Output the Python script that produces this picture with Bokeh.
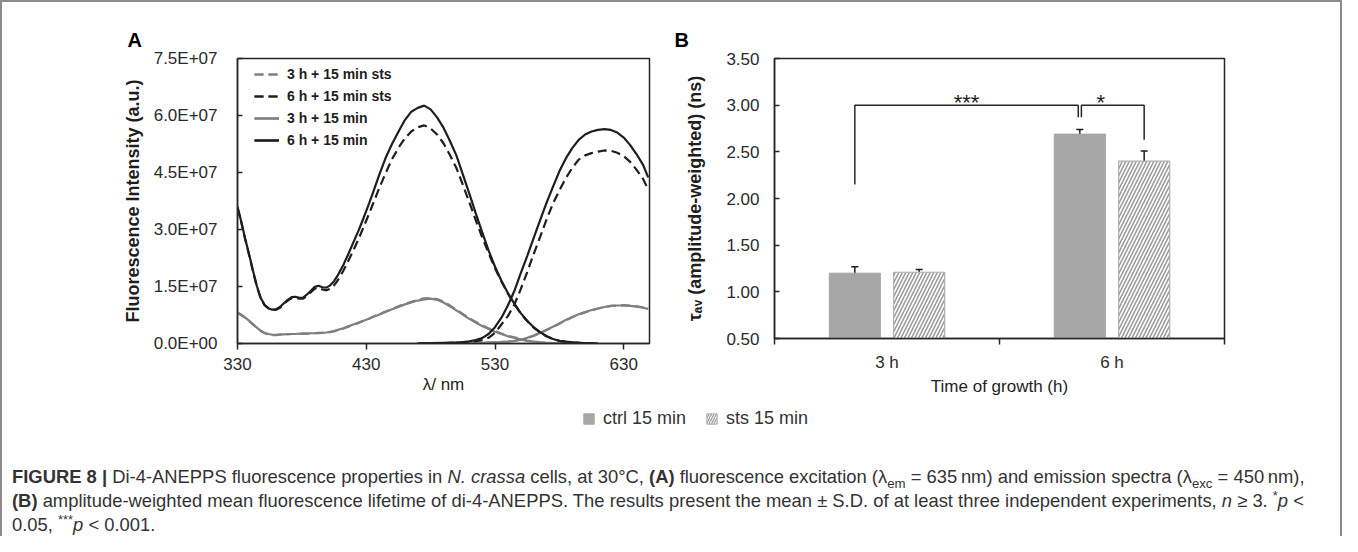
from bokeh.plotting import figure
from bokeh.models import (Range1d, FixedTicker, Legend, LegendItem, Whisker, TeeHead,
                          ColumnDataSource, Div, NumeralTickFormatter)
from bokeh.layouts import column, row
from bokeh.embed import file_html
from bokeh.resources import INLINE
from bokeh.core.properties import value

FONT = "Liberation Sans"
INK = "#1e1e1e"
AXIS = "#262626"
GREY_LINE = "#7f7f7f"
BAR_GREY = "#a6a6a6"
HATCH_GREY = "#9c9c9c"

# ---------------- Panel A data (intensity in units of 1E+07 a.u.) ----------------
x_ticks_A = [330, 430, 530, 630]
y_ticks_A = [0, 1.5, 3, 4.5, 6, 7.5]
y_labels_A = ["0.0E+00", "1.5E+07", "3.0E+07", "4.5E+07", "6.0E+07", "7.5E+07"]

series_labels = ["3 h + 15 min sts", "6 h + 15 min sts", "3 h + 15 min", "6 h + 15 min"]

ex_wl = [330, 333, 336, 339, 342, 345, 348, 351, 354, 357, 360, 363, 366, 369, 372, 375,
         378, 381, 384, 387, 390, 393, 396, 399, 402, 405, 408, 412, 416, 420, 424, 428,
         432, 436, 440, 445, 450, 455, 460, 465, 470, 475, 480, 485, 490, 495, 500, 505,
         510, 515, 520, 525, 530, 535, 540, 545, 550, 555, 560, 565, 570, 575, 580, 590,
         600, 610]

ex_6h = [3.60, 3.20, 2.75, 2.35, 1.92, 1.52, 1.20, 1.02, 0.93, 0.89, 0.90, 0.96, 1.06, 1.15,
         1.22, 1.23, 1.20, 1.21, 1.29, 1.39, 1.49, 1.52, 1.48, 1.47, 1.53, 1.64, 1.80, 2.05,
         2.35, 2.66, 2.97, 3.31, 3.67, 4.04, 4.43, 4.88, 5.25, 5.57, 5.88, 6.10, 6.20, 6.26,
         6.16, 5.95, 5.68, 5.33, 4.95, 4.45, 3.95, 3.43, 2.93, 2.45, 2.02, 1.65, 1.33, 1.05,
         0.80, 0.60, 0.43, 0.30, 0.19, 0.12, 0.07, 0.03, 0.01, 0.00]

ex_6h_sts = [3.58, 3.18, 2.74, 2.33, 1.90, 1.50, 1.19, 1.01, 0.92, 0.88, 0.89, 0.94, 1.04,
             1.13, 1.19, 1.20, 1.18, 1.18, 1.25, 1.35, 1.44, 1.47, 1.42, 1.40, 1.44, 1.53,
             1.67, 1.90, 2.17, 2.45, 2.75, 3.07, 3.40, 3.74, 4.08, 4.48, 4.85, 5.15, 5.40,
             5.58, 5.69, 5.74, 5.66, 5.50, 5.27, 4.96, 4.62, 4.18, 3.72, 3.25, 2.80, 2.38,
             1.98, 1.63, 1.31, 1.04, 0.79, 0.59, 0.42, 0.29, 0.19, 0.12, 0.07, 0.03, 0.01,
             0.00]

ex_3h = [0.82, 0.76, 0.68, 0.60, 0.51, 0.42, 0.34, 0.28, 0.25, 0.23, 0.23, 0.24, 0.24, 0.25,
         0.25, 0.25, 0.26, 0.26, 0.26, 0.27, 0.27, 0.28, 0.28, 0.29, 0.31, 0.33, 0.36, 0.40,
         0.45, 0.50, 0.55, 0.60, 0.65, 0.71, 0.76, 0.83, 0.90, 0.96, 1.03, 1.08, 1.13, 1.16,
         1.18, 1.15, 1.08, 0.98, 0.87, 0.76, 0.65, 0.55, 0.46, 0.38, 0.31, 0.25, 0.19, 0.15,
         0.11, 0.07, 0.05, 0.03, 0.02, 0.01, 0.01, 0.00, 0.00, 0.00]

ex_3h_sts = [0.80, 0.74, 0.67, 0.59, 0.50, 0.41, 0.33, 0.27, 0.24, 0.22, 0.22, 0.23, 0.24,
             0.24, 0.25, 0.25, 0.25, 0.26, 0.26, 0.26, 0.27, 0.27, 0.28, 0.29, 0.30, 0.32,
             0.35, 0.39, 0.44, 0.49, 0.54, 0.60, 0.65, 0.71, 0.77, 0.84, 0.91, 0.98, 1.04,
             1.10, 1.15, 1.19, 1.20, 1.17, 1.10, 1.00, 0.89, 0.78, 0.67, 0.57, 0.48, 0.40,
             0.33, 0.26, 0.20, 0.16, 0.12, 0.08, 0.05, 0.03, 0.02, 0.01, 0.01, 0.00, 0.00,
             0.00]

em_wl = [470, 480, 490, 500, 505, 510, 515, 520, 525, 530, 535, 540, 545, 550, 555, 560, 565,
         570, 575, 580, 585, 590, 595, 600, 605, 610, 615, 620, 625, 630, 635, 640, 645, 649]

em_6h = [0.00, 0.01, 0.02, 0.03, 0.04, 0.06, 0.09, 0.14, 0.25, 0.43, 0.68, 1.00, 1.38, 1.85,
         2.30, 2.77, 3.24, 3.70, 4.12, 4.53, 4.87, 5.14, 5.36, 5.50, 5.58, 5.62, 5.64, 5.62,
         5.55, 5.42, 5.22, 4.98, 4.70, 4.37]

em_6h_sts = [0.00, 0.00, 0.01, 0.02, 0.03, 0.04, 0.06, 0.09, 0.15, 0.28, 0.50, 0.72, 1.02,
             1.43, 1.88, 2.35, 2.80, 3.26, 3.68, 4.03, 4.35, 4.62, 4.84, 4.95, 5.01, 5.05,
             5.08, 5.07, 5.02, 4.93, 4.78, 4.57, 4.33, 4.06]

em_3h = [0.00, 0.00, 0.00, 0.01, 0.01, 0.01, 0.02, 0.02, 0.03, 0.03, 0.04, 0.05, 0.07, 0.10,
         0.15, 0.21, 0.28, 0.36, 0.44, 0.53, 0.62, 0.70, 0.77, 0.83, 0.88, 0.92, 0.96, 0.99,
         1.00, 1.00, 0.99, 0.97, 0.94, 0.91]

em_3h_sts = [0.00, 0.00, 0.00, 0.00, 0.01, 0.01, 0.01, 0.02, 0.02, 0.03, 0.04, 0.05, 0.07,
             0.10, 0.14, 0.20, 0.27, 0.35, 0.43, 0.52, 0.61, 0.69, 0.76, 0.82, 0.87, 0.92,
             0.96, 0.99, 1.00, 1.01, 1.00, 0.98, 0.95, 0.92]

# ---------------- Panel B data ----------------
groups = ["3 h", "6 h"]
ctrl_mean = [1.20, 2.69]
ctrl_sd = [0.07, 0.05]
sts_mean = [1.21, 2.40]
sts_sd = [0.03, 0.11]
y_ticks_B = [0.5, 1.0, 1.5, 2.0, 2.5, 3.0, 3.5]
bar_labels = ["ctrl 15 min", "sts 15 min"]
# significance brackets: (left-end bottom, top, right-end bottom)
sig_texts = ["***", "*"]
sig_levels = [(2.15, 3.00, 2.87), (2.87, 3.00, 2.63)]

# ======================= Panel A =======================
pA = figure(frame_width=412, frame_height=285, x_range=Range1d(330, 650),
            y_range=Range1d(0, 7.5), toolbar_location=None, output_backend="svg",
            min_border_left=235, min_border_right=18, min_border_top=51,
            min_border_bottom=59, title="A")
pA.outline_line_color = AXIS
pA.outline_line_width = 1.5
pA.grid.visible = False

styles = [
    (ex_3h_sts, em_3h_sts, GREY_LINE, "9 5"),
    (ex_6h_sts, em_6h_sts, INK, "9 5"),
    (ex_3h, em_3h, GREY_LINE, "solid"),
    (ex_6h, em_6h, INK, "solid"),
]
items = []
draw_order = [0, 2, 1, 3]
rends = {}
for i in draw_order:
    ex, em, col, dash = styles[i]
    r1 = pA.line(ex_wl, ex, line_color=col, line_width=2.2, line_dash=dash)
    r2 = pA.line(em_wl, em, line_color=col, line_width=2.2, line_dash=dash)
    rends[i] = [r1, r2]
for i, lab in enumerate(series_labels):
    items.append(LegendItem(label=lab, renderers=rends[i]))

legA = Legend(items=items, location=(17, 193), glyph_width=25, glyph_height=20,
              label_height=20, label_standoff=8, spacing=2, padding=0, margin=0,
              label_text_font=FONT, label_text_font_style="bold",
              label_text_font_size="14px", label_text_color=INK,
              border_line_alpha=0, background_fill_alpha=0)
pA.add_layout(legA)

pA.xaxis.ticker = FixedTicker(ticks=x_ticks_A)
pA.yaxis.ticker = FixedTicker(ticks=y_ticks_A)
pA.yaxis.major_label_overrides = dict(zip(y_ticks_A, y_labels_A))
pA.xaxis.axis_label = "λ/ nm"
pA.yaxis.axis_label = "Fluorescence Intensity (a.u.)"

# ======================= Panel B =======================
pB = figure(frame_width=450, frame_height=280, x_range=Range1d(0, 2),
            y_range=Range1d(0.5, 3.5), toolbar_location=None, output_backend="svg",
            min_border_left=107, min_border_right=116, min_border_top=56,
            min_border_bottom=59, title="B")
pB.outline_line_color = AXIS
pB.outline_line_width = 1.5
pB.grid.visible = False

OFF = 0.143
BW = 0.227
x_ctrl = [i + 0.5 - OFF for i in range(len(groups))]
x_sts = [i + 0.5 + OFF for i in range(len(groups))]

src_c = ColumnDataSource(dict(x=x_ctrl, top=ctrl_mean,
                              up=[m + s for m, s in zip(ctrl_mean, ctrl_sd)],
                              lo=[m - s for m, s in zip(ctrl_mean, ctrl_sd)]))
src_s = ColumnDataSource(dict(x=x_sts, top=sts_mean,
                              up=[m + s for m, s in zip(sts_mean, sts_sd)],
                              lo=[m - s for m, s in zip(sts_mean, sts_sd)]))
pB.vbar(x="x", top="top", bottom=0.5, width=BW, source=src_c,
        fill_color=BAR_GREY, line_color=BAR_GREY)
pB.vbar(x="x", top="top", bottom=0.5, width=BW, source=src_s,
        fill_color="white", line_color="#b0b0b0", line_width=1.2,
        hatch_pattern="/", hatch_color=HATCH_GREY, hatch_scale=7, hatch_weight=1.6)
for src in (src_c, src_s):
    w = Whisker(source=src, base="x", upper="up", lower="lo", line_color=INK, line_width=1.5,
                upper_head=TeeHead(size=7, line_color=INK, line_width=1.5),
                lower_head=TeeHead(size=7, line_color=INK, line_width=1.5))
    pB.add_layout(w)

# significance brackets
d = 0.007
br_x = [[x_ctrl[0], x_ctrl[0], x_ctrl[1] - d, x_ctrl[1] - d],
        [x_ctrl[1] + d, x_ctrl[1] + d, x_sts[1], x_sts[1]]]
br_y = [[lv[0], lv[1], lv[1], lv[2]] for lv in sig_levels]
pB.multi_line(br_x, br_y, line_color=AXIS, line_width=1.5)
label_frac = [0.5, 0.31]
pB.text(x=[bx[0] + f * (bx[2] - bx[0]) for bx, f in zip(br_x, label_frac)],
        y=[sig_levels[0][1] + 0.03, sig_levels[1][1] + 0.03], text=sig_texts,
        text_align="center", text_baseline="alphabetic", text_font=value(FONT),
        text_font_size="22px", text_color=INK)

pB.xaxis.ticker = FixedTicker(ticks=[0.5, 1.5], minor_ticks=[0, 1, 2])
pB.xaxis.major_label_overrides = {0.5: groups[0], 1.5: groups[1]}
pB.yaxis.ticker = FixedTicker(ticks=y_ticks_B)
pB.yaxis.formatter = NumeralTickFormatter(format="0.00")
pB.xaxis.axis_label = "Time of growth (h)"
pB.yaxis.axis_label = "τₐᵥ (amplitude-weighted) (ns)"

# ---------------- common axis styling ----------------
for p in (pA, pB):
    p.axis.axis_line_color = AXIS
    p.axis.axis_line_width = 1.5
    p.axis.major_tick_line_color = AXIS
    p.axis.major_tick_line_width = 1.5
    p.axis.minor_tick_line_color = AXIS
    p.axis.minor_tick_line_width = 1.5
    p.axis.major_label_text_font = FONT
    p.axis.major_label_text_font_size = "17px"
    p.axis.major_label_text_color = "#2a2a2a"
    p.axis.axis_label_text_font = FONT
    p.axis.axis_label_text_color = INK
    p.yaxis.major_tick_in = 5
    p.yaxis.major_tick_out = 0
    p.yaxis.minor_tick_in = 0
    p.yaxis.minor_tick_out = 0
    p.yaxis.axis_label_text_font_style = "bold"
    p.yaxis.axis_label_text_font_size = "18px"
    p.xaxis.axis_label_text_font_style = "normal"
    p.xaxis.axis_label_text_font_size = "17px"
    p.xaxis.major_label_standoff = 8
    p.xaxis.axis_label_standoff = 2
    p.title.text_font = FONT
    p.title.text_font_size = "20px"
    p.title.text_font_style = "bold"
    p.title.text_color = "black"
    p.title.align = "left"
    p.title.standoff = 15

pA.xaxis.major_tick_in = 0
pA.xaxis.major_tick_out = 6
pA.xaxis.minor_tick_in = 0
pA.xaxis.minor_tick_out = 0
pA.yaxis.major_label_standoff = 20
pA.yaxis.axis_label_standoff = 8
pA.title.offset = -110

pB.xaxis.major_tick_in = 0
pB.xaxis.major_tick_out = 0
pB.xaxis.minor_tick_in = 0
pB.xaxis.minor_tick_out = 6
pB.yaxis.major_label_standoff = 15
pB.yaxis.axis_label_standoff = 18
pB.title.offset = -100

# ======================= bottom legend =======================
pL = figure(width=1338, height=63, x_range=Range1d(0, 1), y_range=Range1d(0, 1),
            toolbar_location=None, output_backend="svg", min_border=0,
            x_axis_type=None, y_axis_type=None)
pL.outline_line_color = None
pL.grid.visible = False
# placeholder glyphs (outside the visible range) that only supply the legend swatches
rc = pL.vbar(x=[-5], top=[0], width=0.1, fill_color=BAR_GREY, line_color=BAR_GREY)
rs = pL.vbar(x=[-5], top=[0], width=0.1, fill_color="white", line_color="#b0b0b0",
             hatch_pattern="/", hatch_color=HATCH_GREY, hatch_scale=5, hatch_weight=1.3)
legB = Legend(items=[LegendItem(label=bar_labels[0], renderers=[rc]),
                     LegendItem(label=bar_labels[1], renderers=[rs])],
              orientation="horizontal", location=(580, 32), glyph_width=13,
              glyph_height=13, label_height=13, label_standoff=8, spacing=19,
              padding=0, margin=0, label_text_font=FONT, label_text_font_size="18px",
              label_text_color="#333333", border_line_alpha=0, background_fill_alpha=0)
pL.add_layout(legB)

# ======================= caption =======================
caption_html = (
    "<b>FIGURE 8 |</b> Di-4-ANEPPS fluorescence properties in <i>N. crassa</i> cells, at 30°C, "
    "<b>(A)</b> fluorescence excitation (λ<sub style='font-size:0.72em;line-height:0'>em</sub> = 635&#8201;nm) "
    "and emission spectra (λ<sub style='font-size:0.72em;line-height:0'>exc</sub> = 450&#8201;nm),<br>"
    "<b>(B)</b> amplitude-weighted mean fluorescence lifetime of di-4-ANEPPS. The results present the "
    "mean ± S.D. of at least three independent experiments, <i>n</i> ≥ 3. "
    "<sup style='font-size:0.7em;line-height:0'>*</sup><i>p</i> &lt;<br>"
    "0.05, <sup style='font-size:0.7em;line-height:0'>***</sup><i>p</i> &lt; 0.001."
)
cap = Div(text=caption_html, width=1338, height=75, margin=0,
          styles={"font-family": FONT, "font-size": "18.4px", "line-height": "24px",
                  "color": "#333333", "padding-left": "10px", "padding-top": "4px",
                  "white-space": "nowrap"})

layout = column(row(pA, pB), pL, cap,
                styles={"border-top": "2px solid #8c8c8c", "border-left": "2px solid #8c8c8c",
                        "border-right": "2px solid #8c8c8c"})

open("out.html", "w").write(file_html(layout, INLINE))
